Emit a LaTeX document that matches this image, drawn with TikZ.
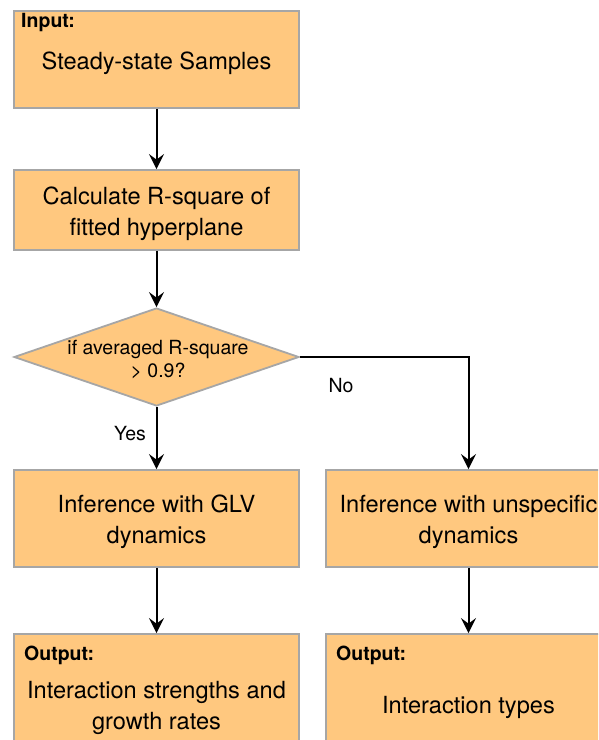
\documentclass[tikz,border=0pt]{standalone}
\usepackage{fontspec}
\setmainfont{TeX Gyre Heros}
\usetikzlibrary{shapes.geometric,arrows.meta}
\definecolor{boxfill}{HTML}{FFC87F}
\definecolor{boxline}{HTML}{A6A6A6}
\tikzset{
  flowbox/.style={rectangle, draw=boxline, fill=boxfill, line width=1.8pt,
    minimum width=285pt, inner sep=0pt},
  boxtext/.style={inner sep=0pt, align=center, font=\fontsize{23.6}{31}\selectfont},
  decision/.style={diamond, draw=boxline, fill=boxfill, line width=1.8pt,
    minimum width=285pt, minimum height=98pt, inner sep=0pt, aspect=2.9},
  tagtext/.style={font=\fontsize{19.5}{22}\selectfont\bfseries, inner sep=0pt, anchor=base west},
  smalltext/.style={font=\fontsize{19.5}{23}\selectfont, inner sep=0pt, align=center},
  flow/.style={line width=2pt, -{Stealth[length=15pt,width=15pt,inset=5.5pt]}}
}
\begin{document}
\begin{tikzpicture}[x=1pt,y=-1pt]
\useasboundingbox (0,0) rectangle (598,740);
\clip (0,0) rectangle (598,740);
\node[flowbox, minimum height=97pt] (input) at (156.5,59.5) {};
\node[boxtext] (intext) at (156.5,63) {Steady-state Samples};
\node[tagtext] (inlab) at (21,27) {Input:};
\node[flowbox, minimum height=80pt] (calc) at (156.5,210) {};
\node[boxtext] (calctext) at (156.5,213.5) {Calculate R-square of\\fitted hyperplane};
\node[decision] (dec) at (156.5,357) {};
\node[smalltext] (dectext) at (158,359.5) {if averaged R-square\\> 0.9?};
\node[flowbox, minimum height=97pt] (glv) at (156.5,518.5) {};
\node[boxtext] (glvtext) at (156.5,522) {Inference with GLV\\dynamics};
\node[flowbox, minimum height=97pt] (uns) at (468.5,518.5) {};
\node[boxtext] (unstext) at (468.5,522) {Inference with unspecific\\dynamics};
\node[flowbox, minimum height=140pt] (out1) at (156.5,704) {};
\node[boxtext] (out1text) at (156.5,707.5) {Interaction strengths and\\growth rates};
\node[tagtext] (outlab1) at (24,660) {Output:};
\node[flowbox, minimum height=140pt] (out2) at (468.5,704) {};
\node[boxtext] (out2text) at (468.5,707.5) {Interaction types};
\node[tagtext] (outlab2) at (336,660) {Output:};
\coordinate (corner) at (468.5,357);
\draw[flow] (input) -- (calc);
\draw[flow] (calc) -- (dec);
\draw[flow] (dec) -- (glv);
\node[smalltext] (yes) at (130,434) {Yes};
\draw[flow] (dec.east) -- (corner) -- (uns);
\node[smalltext] (no) at (341,386) {No};
\draw[flow] (glv) -- (out1);
\draw[flow] (uns) -- (out2);
\end{tikzpicture}
\end{document}
